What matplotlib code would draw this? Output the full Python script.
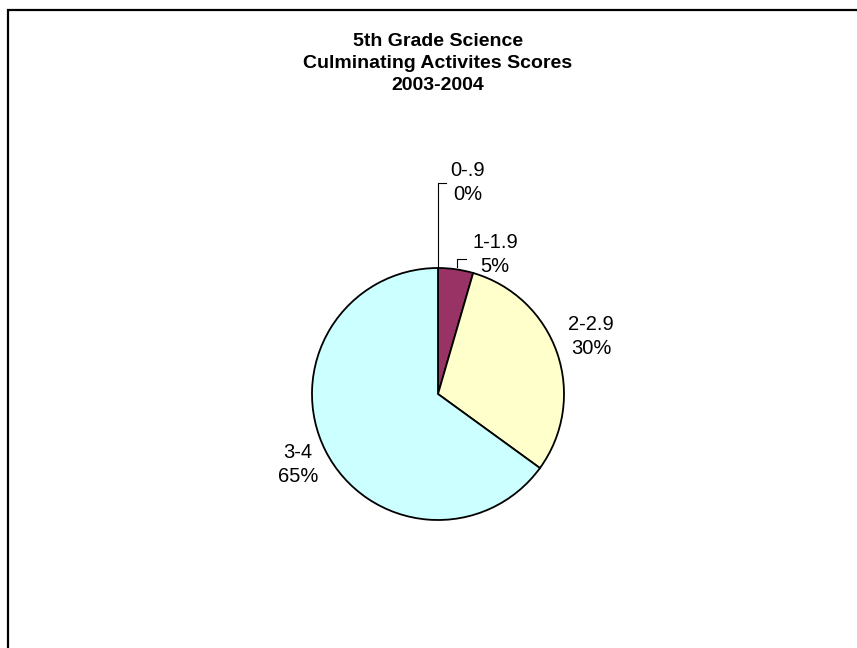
import matplotlib
matplotlib.use("Agg")
import matplotlib.pyplot as plt

plt.rcParams["font.family"] = ["Liberation Sans", "DejaVu Sans"]

categories = ["0-.9", "1-1.9", "2-2.9", "3-4"]
shares = [0.0, 4.5, 30.5, 65.0]           # percent of students
pct_labels = ["0%", "5%", "30%", "65%"]
colors = ["#9999FF", "#993366", "#FFFFCC", "#CCFFFF"]
title_lines = ["5th Grade Science", "Culminating Activites Scores", "2003-2004"]

W, H = 857, 648
fig = plt.figure(figsize=(W / 100, H / 100), dpi=100)
ax = fig.add_axes([0, 0, 1, 1])
ax.axis("off")

cx, cy, r = 438, 394, 126
ax.pie(shares, colors=colors, startangle=90, counterclock=False,
       center=(cx, H - cy), radius=r,
       wedgeprops=dict(edgecolor="black", linewidth=1.3))
ax.set_xlim(0, W)
ax.set_ylim(0, H)
ax.set_aspect("equal")

def Y(y):
    # pixel row (from top) -> data y
    return H - y

# chart frame (left and top edges)
ax.plot([8, 8, W], [Y(H), Y(10), Y(10)], color="black", lw=1.6,
        solid_joinstyle="miter", clip_on=False)

# title
for i, t in enumerate(title_lines):
    ax.text(438, Y(41 + 22 * i), t, ha="center", va="center",
            fontsize=14, fontweight="bold")

# data labels
lab_pos = [(468, 183), (495, 254), (591, 336), (298, 465)]
for (x, y), c, p in zip(lab_pos, categories, pct_labels):
    ax.text(x, Y(y - 12), c, ha="center", va="center", fontsize=14.5)
    ax.text(x, Y(y + 12), p, ha="center", va="center", fontsize=14.5)

# leader lines
ax.plot([438, 438, 446], [Y(268), Y(183), Y(183)], color="black", lw=0.8)
ax.plot([457, 457, 466], [Y(267), Y(259), Y(259)], color="black", lw=0.8)

fig.savefig("out.png", dpi=100, facecolor="white")
